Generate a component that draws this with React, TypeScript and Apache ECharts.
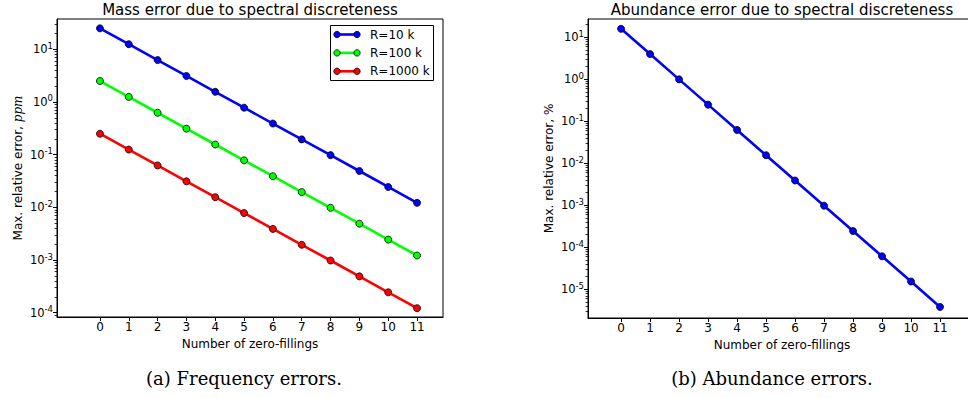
import React, { useEffect, useRef } from "react";
import * as echarts from "echarts";

// Number of zero-fillings (x positions)
const zeroFillings = [0, 1, 2, 3, 4, 5, 6, 7, 8, 9, 10, 11];

// Mass error (ppm) for three resolving powers
const seriesNames = ["R=10 k", "R=100 k", "R=1000 k"];
const massErrR10 = [25, 12.5, 6.25, 3.12, 1.56, 0.78, 0.39, 0.195, 0.098, 0.049, 0.0244, 0.0122];
const massErrR100 = [2.5, 1.25, 0.625, 0.312, 0.156, 0.078, 0.039, 0.0195, 0.0098, 0.0049, 0.00244, 0.00122];
const massErrR1000 = [0.25, 0.125, 0.0625, 0.0312, 0.0156, 0.0078, 0.0039, 0.00195, 0.00098, 0.00049, 0.000244, 0.000122];

// Abundance error (%)
const abundanceErr = [16, 4, 1, 0.25, 0.0625, 0.0156, 0.0039, 0.00098, 0.000244, 0.000061, 0.0000153, 0.0000038];

// Tick decades
const massDecades = [1e-4, 1e-3, 1e-2, 1e-1, 1, 10];
const abundanceDecades = [1e-5, 1e-4, 1e-3, 1e-2, 1e-1, 1, 10];

const titles = ["Mass error due to spectral discreteness", "Abundance error due to spectral discreteness"];
const captions = ["(a) Frequency errors.", "(b) Abundance errors."];
const xName = "Number of zero-fillings";

const lineColors = ["#0000ff", "#00ff00", "#ff0000"];
const FONT = "DejaVu Sans";

function minorTicks(min: number, max: number): number[] {
  const out: number[] = [];
  for (let e = Math.floor(Math.log10(min)); e <= Math.ceil(Math.log10(max)); e++) {
    for (let k = 2; k <= 9; k++) {
      const v = k * Math.pow(10, e);
      if (v >= min && v <= max) out.push(v);
    }
  }
  return out;
}

function powLabel(v: number): string {
  const n = Math.log10(v);
  const r = Math.round(n);
  if (Math.abs(n - r) > 1e-6) return "";
  return `{b|10}{s|${r}}`;
}

const App: React.FC = () => {
  const ref = useRef<HTMLDivElement>(null);

  useEffect(() => {
    if (!ref.current) return;
    const chart = echarts.init(ref.current, undefined, { renderer: "svg" });

    const grids = [
      { left: 57, top: 19, width: 386, height: 298 },
      { left: 588, top: 19, width: 388, height: 299 },
    ];
    const xRanges = [
      [-1.49, 11.9],
      [-1.14, 12.24],
    ];
    const yRanges = [
      [8.3e-5, 37.6],
      [2.07e-6, 27.4],
    ];
    const decades = [massDecades, abundanceDecades];
    const yNames = ["Max. relative error, {i|ppm}", "Max. relative error, %"];

    const axisLineStyle = { color: "#000", width: 1 };

    const xAxis = grids.map((_, g) => ({
      type: "value",
      gridIndex: g,
      min: xRanges[g][0],
      max: xRanges[g][1],
      axisLine: { show: true, onZero: false, lineStyle: axisLineStyle },
      axisTick: { show: true, customValues: zeroFillings, length: 4, lineStyle: axisLineStyle },
      axisLabel: {
        customValues: zeroFillings,
        fontSize: 12,
        fontFamily: FONT,
        color: "#000",
        margin: 4,
      },
      splitLine: { show: false },
      name: xName,
      nameLocation: "middle",
      nameGap: 19,
      nameTextStyle: { fontSize: 12, fontFamily: FONT, color: "#000" },
    }));

    const yAxis: any[] = [];
    grids.forEach((_, g) => {
      yAxis.push({
        type: "log",
        gridIndex: g,
        min: yRanges[g][0],
        max: yRanges[g][1],
        axisLine: { show: true, onZero: false, lineStyle: axisLineStyle },
        axisTick: { show: true, customValues: decades[g], length: 4, lineStyle: axisLineStyle },
        axisLabel: {
          showMinLabel: false,
          showMaxLabel: false,
          formatter: powLabel,
          margin: 4,
          color: "#000",
          rich: {
            b: { fontSize: 11.5, fontFamily: FONT, color: "#000", lineHeight: 16 },
            s: { fontSize: 8.5, fontFamily: FONT, color: "#000", lineHeight: 9, verticalAlign: "top" },
          },
        },
        splitLine: { show: false },
        name: yNames[g],
        nameLocation: "middle",
        nameGap: 33,
        nameRotate: 90,
        nameTextStyle: {
          fontSize: 12,
          fontFamily: FONT,
          color: "#000",
          rich: { i: { fontSize: 12, fontFamily: "DejaVu Serif", fontStyle: "italic", color: "#000" } },
        },
      });
      // log-spaced minor ticks on the same side
      yAxis.push({
        type: "log",
        gridIndex: g,
        position: "left",
        min: yRanges[g][0],
        max: yRanges[g][1],
        axisLine: { show: false, onZero: false },
        axisTick: {
          show: true,
          customValues: minorTicks(yRanges[g][0], yRanges[g][1]),
          length: 2.4,
          lineStyle: { color: "#000", width: 0.8 },
        },
        axisLabel: { show: false },
        splitLine: { show: false },
      });
    });

    const lineSeries = (name: string, values: number[], color: string, g: number) => ({
      type: "line",
      name,
      xAxisIndex: g,
      yAxisIndex: g * 2,
      data: zeroFillings.map((x, i) => [x, values[i]]),
      symbol: "circle",
      symbolSize: 7,
      lineStyle: { color, width: 2.6 },
      itemStyle: { color, borderColor: "#000", borderWidth: 0.8 },
      clip: false,
    });

    const massSets = [massErrR10, massErrR100, massErrR1000];
    const series = [
      ...massSets.map((v, i) => lineSeries(seriesNames[i], v, lineColors[i], 0)),
      lineSeries("abundance", abundanceErr, lineColors[0], 1),
    ];

    // legend box in the upper right of the left panel
    const legendEls: any[] = [
      {
        type: "rect",
        shape: { x: 330.5, y: 25.5, width: 103, height: 55 },
        style: { fill: "#fff", stroke: "#000", lineWidth: 1 },
        z: 10,
      },
    ];
    seriesNames.forEach((name, i) => {
      const y = 34.5 + i * 18.4;
      legendEls.push(
        { type: "line", z: 11, shape: { x1: 337, y1: y, x2: 357, y2: y }, style: { stroke: lineColors[i], lineWidth: 2.6 } },
        { type: "circle", z: 12, shape: { cx: 337, cy: y, r: 3.2 }, style: { fill: lineColors[i], stroke: "#000", lineWidth: 0.8 } },
        { type: "circle", z: 12, shape: { cx: 357, cy: y, r: 3.2 }, style: { fill: lineColors[i], stroke: "#000", lineWidth: 0.8 } },
        {
          type: "text",
          z: 12,
          x: 370,
          y,
          style: { text: name, font: `12px "${FONT}"`, fill: "#000", verticalAlign: "middle", align: "left" },
        }
      );
    });

    const graphic: any[] = [
      ...legendEls,
      {
        type: "text",
        x: 250,
        y: 10,
        style: { text: titles[0], font: `15px "${FONT}"`, fill: "#000", align: "center", verticalAlign: "middle" },
      },
      {
        type: "text",
        x: 782,
        y: 10,
        style: { text: titles[1], font: `15px "${FONT}"`, fill: "#000", align: "center", verticalAlign: "middle" },
      },
      {
        type: "text",
        x: 244,
        y: 378,
        style: { text: captions[0], font: `18px "DejaVu Serif"`, fill: "#000", align: "center", verticalAlign: "middle" },
      },
      {
        type: "text",
        x: 772,
        y: 378,
        style: { text: captions[1], font: `18px "DejaVu Serif"`, fill: "#000", align: "center", verticalAlign: "middle" },
      },
    ];

    chart.setOption({
      animation: false,
      backgroundColor: "#fff",
      textStyle: { fontFamily: FONT },
      grid: grids.map((g) => ({
        ...g,
        show: true,
        borderColor: "#000",
        borderWidth: 1,
        backgroundColor: "transparent",
        containLabel: false,
        outerBoundsMode: "none",
      })),
      xAxis,
      yAxis,
      series,
      graphic,
    });

    return () => chart.dispose();
  }, []);

  return (
    <div
      ref={ref}
      style={{ position: "absolute", left: 0, top: 0, width: 968, height: 398 }}
    />
  );
};

export default App;
